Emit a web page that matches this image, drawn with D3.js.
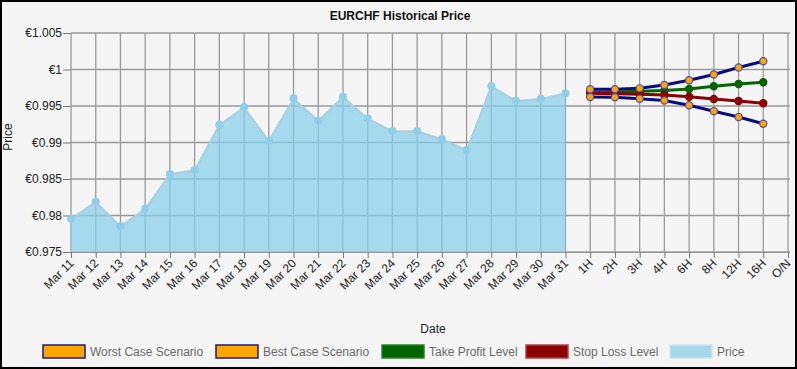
<!DOCTYPE html>
<html><head><meta charset="utf-8">
<script src="https://cdn.jsdelivr.net/npm/d3@7"></script>
<style>body{margin:0;background:#fff}svg{display:block;font-family:"Liberation Sans",Arial,sans-serif}</style>
</head><body><svg id="c" width="797" height="369"></svg>
<script>
const dates = ["Mar 11","Mar 12","Mar 13","Mar 14","Mar 15","Mar 16","Mar 17","Mar 18","Mar 19","Mar 20","Mar 21","Mar 22","Mar 23","Mar 24","Mar 25","Mar 26","Mar 27","Mar 28","Mar 29","Mar 30","Mar 31"];
const horizons = ["1H","2H","3H","4H","6H","8H","12H","16H","O/N"];
const price = [0.97956,0.98189,0.97856,0.98093,0.98568,0.98623,0.99244,0.99486,0.99025,0.99605,0.99301,0.99628,0.99331,0.99158,0.99158,0.99048,0.98897,0.99774,0.99573,0.99600,0.99674];
const forecastH = ["1H","2H","3H","4H","6H","8H","12H","16H"];
const bestCase = [0.99729,0.99731,0.99742,0.99788,0.99853,0.99932,1.00027,1.00112];
const worstCase = [0.99623,0.99619,0.99600,0.99575,0.99510,0.99429,0.99349,0.99256];
const takeProfit = [0.99688,0.99692,0.99701,0.99712,0.99733,0.99770,0.99801,0.99825];
const stopLoss = [0.99674,0.99667,0.99660,0.99651,0.99626,0.99596,0.99569,0.99537];
const yTicks = [0.975,0.98,0.985,0.99,0.995,1,1.005];
const yTickLabels = ["€0.975","€0.98","€0.985","€0.99","€0.995","€1","€1.005"];
const legendItems = [
  {label:"Worst Case Scenario", fill:"#ffa500", stroke:"#1a1a8c"},
  {label:"Best Case Scenario", fill:"#ffa500", stroke:"#1a1a8c"},
  {label:"Take Profit Level", fill:"#006400", stroke:"#2e7d2e"},
  {label:"Stop Loss Level", fill:"#8b0000", stroke:"#b04040"},
  {label:"Price", fill:"#a5d7ed", stroke:"#cfe3ec"}
];

const svg = d3.select("#c");
const W=797,H=369;
svg.append("rect").attr("x",1).attr("y",1).attr("width",W-2).attr("height",H-2).attr("fill","#f5f5f5").attr("stroke","#000").attr("stroke-width",2);

const cats = dates.concat(horizons);
const x = d3.scalePoint().domain(cats).range([71,788]);
const y = d3.scaleLinear().domain([0.975,1.005]).range([252,33]);

// grid
const g = svg.append("g");
g.selectAll(".vg").data(cats).join("line").attr("x1",d=>x(d)).attr("x2",d=>x(d)).attr("y1",33).attr("y2",252).attr("stroke","#9a9a9a").attr("stroke-width",1.3);
g.selectAll(".hg").data(yTicks).join("line").attr("x1",71).attr("x2",790).attr("y1",d=>y(d)).attr("y2",d=>y(d)).attr("stroke","#9a9a9a").attr("stroke-width",1.3);

// y axis
const yAxis = d3.axisLeft(y).tickValues(yTicks).tickFormat((d,i)=>yTickLabels[i]).tickSize(8).tickPadding(1);
const ya = svg.append("g").attr("transform","translate(71,0)").call(yAxis);
ya.select(".domain").remove();
ya.selectAll("line").attr("stroke","#777");
ya.selectAll("text").attr("font-size",12).attr("fill","#222").attr("font-family","Liberation Sans, Arial, sans-serif");

// x axis
const xAxis = d3.axisBottom(x).tickSize(6).tickPadding(2);
const xa = svg.append("g").attr("transform","translate(0,252)").call(xAxis);
xa.select(".domain").attr("stroke","#999");
xa.selectAll("line").attr("stroke","#777");
xa.selectAll("text").attr("font-size",12).attr("fill","#222").attr("font-family","Liberation Sans, Arial, sans-serif")
  .attr("text-anchor","end").attr("dy","0").attr("y",0)
  .attr("transform","translate(3,12) rotate(-45)");

// price area
const area = d3.area().x((d,i)=>x(dates[i])).y0(y(0.975)).y1(d=>y(d));
svg.append("path").datum(price).attr("d",area).attr("fill","rgb(135,206,235)").attr("fill-opacity",0.72);
const line = d3.line().x((d,i)=>x(dates[i])).y(d=>y(d));
svg.append("path").datum(price).attr("d",line).attr("fill","none").attr("stroke","#b7cdd7").attr("stroke-width",2).attr("transform","translate(0,1)");
svg.append("path").datum(price).attr("d",line).attr("fill","none").attr("stroke","#9fd3ea").attr("stroke-width",1.5);
svg.selectAll(".pp").data(price).join("circle").attr("cx",(d,i)=>x(dates[i])).attr("cy",d=>y(d)).attr("r",4).attr("fill","#8fcfea");

// forecast lines
const fl = d3.line().x((d,i)=>x(forecastH[i])).y(d=>y(d));
function drawLine(data,color){ svg.append("path").datum(data).attr("d",fl).attr("fill","none").attr("stroke",color).attr("stroke-width",3); }
drawLine(takeProfit,"#006400");
drawLine(stopLoss,"#8b0000");
drawLine(worstCase,"#0a0a80");
drawLine(bestCase,"#0a0a80");
function drawPts(data,fill,stroke){ svg.append("g").selectAll("circle").data(data).join("circle").attr("cx",(d,i)=>x(forecastH[i])).attr("cy",d=>y(d)).attr("r",3.6).attr("fill",fill).attr("stroke",stroke).attr("stroke-width",1.2); }
drawPts(takeProfit,"#006400","#006400");
drawPts(stopLoss,"#8b0000","#8b0000");
drawPts(worstCase,"#ffa500","#5050a8");
drawPts(bestCase,"#ffa500","#5050a8");

// titles
svg.append("text").attr("x",400).attr("y",20).attr("text-anchor","middle").attr("font-size",12).attr("font-weight","bold").attr("fill","#111").text("EURCHF  Historical Price");
svg.append("text").attr("transform","translate(12,137) rotate(-90)").attr("text-anchor","middle").attr("font-size",12).attr("fill","#222").text("Price");
svg.append("text").attr("x",433).attr("y",333).attr("text-anchor","middle").attr("font-size",12).attr("fill","#222").text("Date");

// legend
const lx = [43,216,382,526,670];
const lg = svg.append("g").selectAll("g").data(legendItems).join("g").attr("transform",(d,i)=>`translate(${lx[i]},345)`);
lg.append("rect").attr("width",42).attr("height",13).attr("fill",d=>d.fill).attr("stroke",d=>d.stroke).attr("stroke-width",1.5);
lg.append("text").attr("x",47).attr("y",11).attr("font-size",12).attr("fill","#6a6a6a").text(d=>d.label);
</script></body></html>
